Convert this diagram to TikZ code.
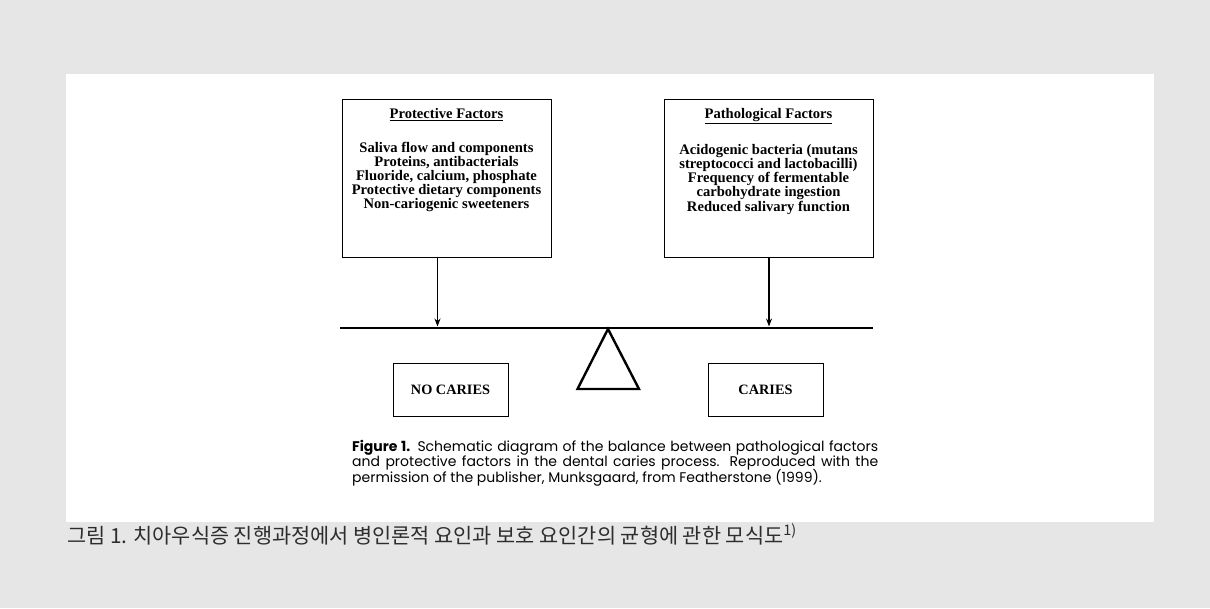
\documentclass[tikz,border=0pt]{standalone}
\usepackage{fontspec}
\setmainfont{Liberation Serif}
\newfontfamily\capfont{Poppins}
\newfontfamily\kofont{Noto Sans CJK KR}
\usetikzlibrary{arrows.meta,positioning}
\definecolor{bggray}{RGB}{230,230,230}
\definecolor{kogray}{RGB}{45,45,45}
\newcommand{\capline}[1]{\makebox[526pt][s]{#1}}
\begin{document}
\begin{tikzpicture}[x=10pt, y=10pt,
		factorbox/.style={draw, line width=0.8pt, minimum width=209pt, minimum height=158pt, inner sep=0pt},
		factortext/.style={align=center, font=\fontsize{14.6}{14.2}\selectfont\bfseries, inner sep=0pt},
		outcomebox/.style={draw, line width=0.8pt, minimum width=115pt, minimum height=53pt, font=\fontsize{14.3}{16}\selectfont\bfseries},
		push/.style={-{Stealth[length=8pt, width=6pt]}}]
		\fill[bggray](0, 0) rectangle (121, 60.8);
		\fill[white](6.6, 8.6) rectangle (115.4, 53.4);

		\node[factorbox] (prot) at (44.65, 43.0){};
		\node[factortext, below=10pt of prot.north] (protText){\underline{Protective Factors}\\[19pt]
			Saliva flow and components\\
			Proteins, antibacterials\\
			Fluoride, calcium, phosphate\\
			Protective dietary components\\
			Non-cariogenic sweeteners};

		\node[factorbox] (path) at (76.85, 43.0){};
		\node[factortext, below=10pt of path.north] (pathText){\underline{Pathological Factors}\\[19pt]
			Acidogenic bacteria (mutans\\
			streptococci and lactobacilli)\\
			Frequency of fermentable\\
			carbohydrate ingestion\\
			Reduced salivary function};

		\coordinate (beamL) at (34.0, 28.0);
		\coordinate (beamR) at (87.3, 28.0);
		\coordinate (protPin) at (43.75, 28.15);
		\coordinate (pathPin) at (76.9, 28.15);
		\draw[line width=2.7pt](beamL) -- (beamR);
			\draw[push, line width=0.8pt](protPin |- prot.south) -- (protPin);
			\draw[push, line width=1.6pt](pathPin |- path.south) -- (pathPin);

		\coordinate (apex) at (60.8, 27.9);
		\coordinate (baseL) at (57.75, 21.9);
		\coordinate (baseR) at (63.9, 21.9);
		\draw[line width=2.4pt, line join=miter](apex) -- (baseL) -- (baseR) -- cycle;

		\node[outcomebox] (noCaries) at (45.05, 21.85){NO CARIES};
		\node[outcomebox] (caries) at (76.55, 21.85){CARIES};

		\node[anchor=north west, inner sep=0pt, align=left,
			font=\capfont\fontsize{14}{15}\selectfont] (caption) at (35.2, 16.8)
			{\capline{\textbf{Figure 1.} Schematic diagram of the balance between pathological factors}\\
			\capline{and protective factors in the dental caries process. Reproduced with the}\\[-2pt]
			permission of the publisher, Munksgaard, from Featherstone (1999).};

		\node[anchor=base west, inner sep=0pt, text=kogray, font=\kofont\fontsize{20.8}{22}\selectfont] (koCaption) at (6.7, 6.5)
			{그림 1. 치아우식증 진행과정에서 병인론적 요인과 보호 요인간의 균형에 관한 모식도\textsuperscript{1)}};
	\end{tikzpicture}
\end{document}
